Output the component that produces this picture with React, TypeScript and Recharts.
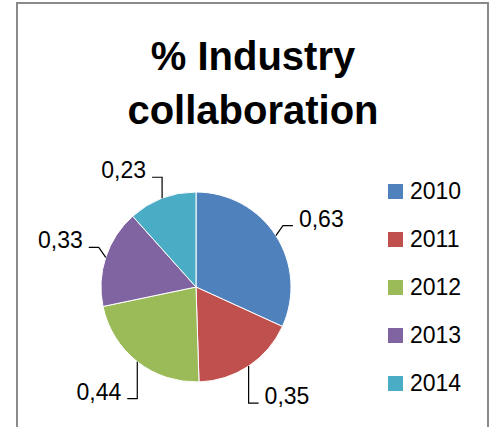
import React from 'react';
import { PieChart, Pie, Cell, Legend } from 'recharts';

const years = ['2010', '2011', '2012', '2013', '2014'];
const values = [0.63, 0.35, 0.44, 0.33, 0.23];
const colors = ['#4F81BD', '#C0504D', '#9BBB59', '#8064A2', '#4BACC6'];

const data = years.map((y, i) => ({ name: y, value: values[i] }));

const FONT = '"Liberation Sans", Arial, sans-serif';
const RAD = Math.PI / 180;

// Excel-style elbow leader line + label
const renderLabel = (props: any) => {
  const { cx, cy, midAngle, outerRadius, value } = props;
  const cos = Math.cos(-midAngle * RAD);
  const sin = Math.sin(-midAngle * RAD);
  const ax = cx + outerRadius * cos;
  const ay = cy + outerRadius * sin;
  const side = cos >= 0 ? 1 : -1;
  let bx = ax;
  let by = ay;
  if (sin > 0.5) {
    by = ay + 37;
  } else if (sin < -0.8) {
    by = ay - 21;
  } else {
    bx = ax + side * 7;
    by = ay - 10;
  }
  const ex = bx + side * 10;
  const text = String(value).replace('.', ',');
  return (
    <g>
      <path d={`M${ax},${ay}L${bx},${by}L${ex},${by}`} stroke="#000" strokeWidth={1.2} fill="none" />
      <text
        x={ex + side * 6}
        y={by + 1}
        textAnchor={side > 0 ? 'start' : 'end'}
        fontFamily={FONT}
        fontSize={23}
        fill="#000"
      >
        {text}
      </text>
    </g>
  );
};

const renderLegend = (props: any) => {
  const { payload } = props;
  return (
    <div>
      {payload.map((entry: any, i: number) => (
        <div key={`leg-${i}`} style={{ height: 48, display: 'flex', alignItems: 'center' }}>
          <div style={{ width: 15, height: 15, background: entry.color, marginRight: 7 }} />
          <span style={{ fontFamily: FONT, fontSize: 23, color: '#000' }}>{entry.value}</span>
        </div>
      ))}
    </div>
  );
};

export default function App() {
  return (
    <div style={{ position: 'absolute', left: 0, top: 0, width: 492, height: 427, overflow: 'hidden', background: '#fff' }}>
      <div
        style={{
          position: 'absolute',
          left: 16,
          top: 2,
          width: 469,
          height: 460,
          border: '2px solid #8a8a8a',
        }}
      />
      <div
        style={{
          position: 'absolute',
          left: 0,
          top: 29,
          width: 506,
          textAlign: 'center',
          fontFamily: FONT,
          fontWeight: 'bold',
          fontSize: 40,
          lineHeight: '54px',
          color: '#000',
        }}
      >
        % Industry
        <br />
        collaboration
      </div>
      <div style={{ position: 'absolute', left: 0, top: 0 }}>
        <PieChart width={492} height={427} margin={{ top: 0, right: 0, bottom: 0, left: 0 }}>
          <Pie
            data={data}
            dataKey="value"
            nameKey="name"
            cx={196}
            cy={287}
            outerRadius={95}
            startAngle={90}
            endAngle={-270}
            stroke="#fff"
            strokeWidth={1}
            label={renderLabel}
            labelLine={false}
            isAnimationActive={false}
          >
            {data.map((d, i) => (
              <Cell key={`cell-${i}`} fill={colors[i]} />
            ))}
          </Pie>
          <Legend
            layout="vertical"
            align="right"
            verticalAlign="top"
            content={renderLegend}
            wrapperStyle={{ left: 388, top: 167, width: 100 }}
          />
        </PieChart>
      </div>
    </div>
  );
}
